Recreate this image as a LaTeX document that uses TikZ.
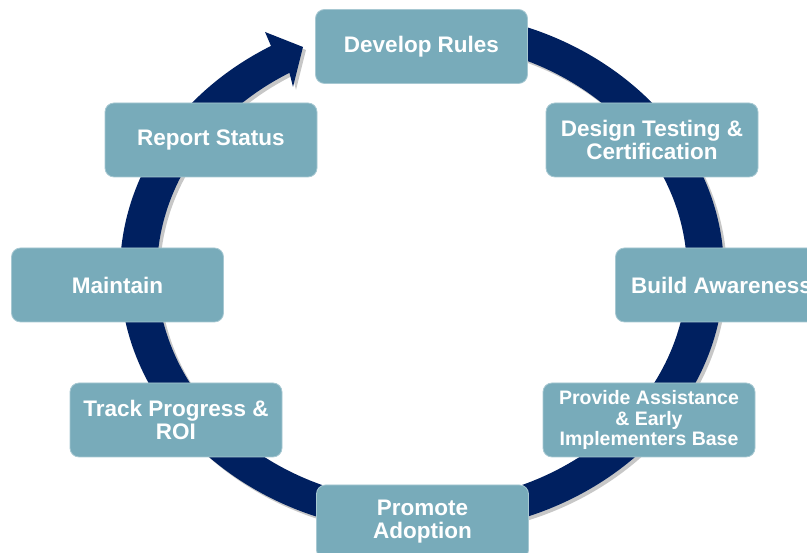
\documentclass[tikz,border=0pt]{standalone}
\usepackage{fontspec}
\setmainfont{Liberation Sans}
\usetikzlibrary{calc}
\definecolor{boxteal}{RGB}{120,171,186}
\definecolor{ringblue}{RGB}{0,32,96}
\tikzset{
  stagebox/.style={draw=boxteal!65!white, line width=0.8pt, fill=boxteal,
    rounded corners=9pt, minimum width=212pt, minimum height=74pt, inner sep=0pt,
    text=white, align=center, font=\bfseries\fontsize{22.5}{23}\selectfont},
  smalltext/.style={font=\bfseries\fontsize{19.5}{20.5}\selectfont},
  ringfill/.style={fill=ringblue},
  ringshadow/.style={fill=black, opacity=0.22}
}
\newcommand{\ringpath}{%
  (422,281) ++(90:302 and 261)
  arc[start angle=90, end angle=-240, x radius=302, y radius=261]
  -- (265,521) -- (303,506) -- (293,466)
  -- ($(422,281)+(120:265 and 230)$)
  arc[start angle=-240, end angle=90, x radius=265, y radius=230] -- cycle}
\begin{document}
\begin{tikzpicture}[x=1pt,y=1pt]
  \useasboundingbox (0,0) rectangle (807,553);
  \clip (0,0) rectangle (807,553);
  \fill[white] (0,0) rectangle (807,553);
  % ring with shadow
  \begin{scope}[shift={(3,-3)}]
    \fill[ringshadow] \ringpath;
  \end{scope}
  \fill[ringfill] \ringpath;
  % stages
  \node[stagebox] (develop) at (421.5,506.5) {Develop Rules};
  \node[stagebox] (design) at (652,413) {Design Testing \&\\Certification};
  \node[stagebox] (build) at (721.5,268) {Build Awareness};
  \node[stagebox, smalltext] (provide) at (649,133) {Provide Assistance\\\& Early\\Implementers Base};
  \node[stagebox] (promote) at (422.5,31) {Promote\\Adoption};
  \node[stagebox] (track) at (176,133) {Track Progress \&\\ROI};
  \node[stagebox] (maintain) at (117.5,268) {Maintain};
  \node[stagebox] (report) at (211,413) {Report Status};
\end{tikzpicture}
\end{document}
